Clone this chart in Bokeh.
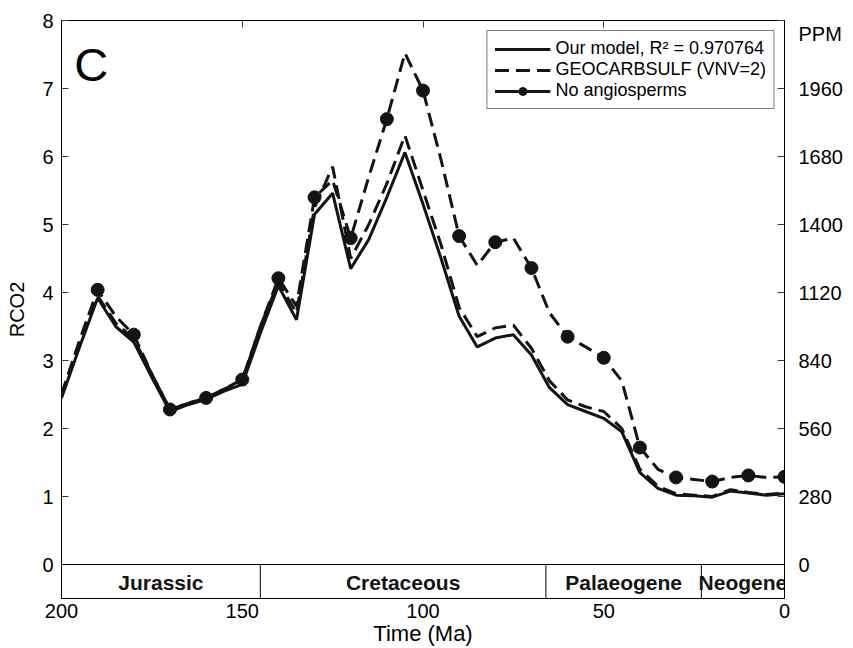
from bokeh.plotting import figure
from bokeh.models import (Range1d, LinearAxis, FixedTicker, Label, Legend,
                          LegendItem, Span, ColumnDataSource)
from bokeh.core.properties import value
from bokeh.embed import file_html
from bokeh.resources import INLINE

# Time grid (Ma), 5 Myr steps from 200 Ma to present
time_ma = [200, 195, 190, 185, 180, 175, 170, 165, 160, 155, 150, 145, 140,
           135, 130, 125, 120, 115, 110, 105, 100, 95, 90, 85, 80, 75, 70,
           65, 60, 55, 50, 45, 40, 35, 30, 25, 20, 15, 10, 5, 0]

# RCO2 series
our_model = [2.45, 3.20, 3.92, 3.50, 3.27, 2.75, 2.25, 2.35, 2.43, 2.55, 2.65,
             3.40, 4.10, 3.60, 5.15, 5.46, 4.35, 4.78, 5.40, 6.06, 5.30, 4.50,
             3.65, 3.20, 3.33, 3.38, 3.08, 2.60, 2.35, 2.25, 2.15, 1.95, 1.35,
             1.12, 1.02, 1.01, 0.99, 1.08, 1.05, 1.02, 1.04]
geocarbsulf = [2.50, 3.25, 3.95, 3.55, 3.32, 2.80, 2.28, 2.37, 2.46, 2.58, 2.70,
               3.50, 4.15, 3.70, 5.25, 5.85, 4.50, 5.00, 5.60, 6.31, 5.50, 4.70,
               3.78, 3.35, 3.48, 3.52, 3.18, 2.70, 2.42, 2.32, 2.25, 2.00, 1.40,
               1.15, 1.04, 1.02, 1.00, 1.10, 1.06, 1.03, 1.05]
no_angiosperms = [2.50, 3.30, 4.04, 3.65, 3.38, 2.80, 2.28, 2.37, 2.45, 2.58, 2.72,
                  3.50, 4.21, 3.80, 5.40, 5.65, 4.80, 5.70, 6.55, 7.52, 6.97, 5.95,
                  4.83, 4.40, 4.74, 4.80, 4.36, 3.70, 3.35, 3.20, 3.04, 2.70, 1.72,
                  1.40, 1.28, 1.25, 1.22, 1.28, 1.31, 1.28, 1.29]
# the no-angiosperm run is marked every 10 Myr
marker_times = [190, 180, 170, 160, 150, 140, 130, 120, 110, 100,
                90, 80, 70, 60, 50, 40, 30, 20, 10, 0]

# Geological periods (start, end in Ma)
period_names = ["Jurassic", "Cretaceous", "Palaeogene", "Neogene"]
period_starts = [200, 145, 66, 23]
period_ends = [145, 66, 23, 0]

rco2_ticks = [0, 1, 2, 3, 4, 5, 6, 7, 8]
ppm_ticks = [0, 280, 560, 840, 1120, 1400, 1680, 1960]
time_ticks = [200, 150, 100, 50, 0]
PPM_PER_RCO2 = 280

FONT = "Liberation Sans"
INK = "#141414"
AX = "#3a3a3a"

y_lo, y_hi = -0.5, 8.0
ppm_top = y_hi * PPM_PER_RCO2

p = figure(width=853, height=648, x_range=Range1d(200, 0),
           y_range=Range1d(y_lo, y_hi), output_backend="svg",
           toolbar_location=None, min_border_left=61, min_border_right=69,
           min_border_top=20, min_border_bottom=48)
p.background_fill_color = "white"
p.border_fill_color = "white"
p.outline_line_color = "black"
p.outline_line_width = 1
p.xgrid.visible = False
p.ygrid.visible = False

# bottom axis
xa = p.xaxis[0]
xa.ticker = FixedTicker(ticks=time_ticks)
xa.axis_label = "Time (Ma)"
xa.major_tick_in = 0
xa.major_tick_out = 0
xa.minor_tick_in = 0
xa.minor_tick_out = 0
xa.major_label_standoff = 5
xa.axis_label_standoff = 0
xa.axis_line_color = "black"

# left axis
ya = p.yaxis[0]
ya.ticker = FixedTicker(ticks=rco2_ticks)
ya.axis_label = "RCO2"
ya.major_tick_in = 7
ya.major_tick_out = 0
ya.minor_tick_in = 0
ya.minor_tick_out = 0
ya.major_label_standoff = 8
ya.axis_label_standoff = 11
ya.axis_line_color = "black"

# right axis in ppm; the unit name sits at the top of the scale
p.extra_y_ranges = {"ppm": Range1d(y_lo * PPM_PER_RCO2, ppm_top)}
ra = LinearAxis(y_range_name="ppm",
                ticker=FixedTicker(ticks=ppm_ticks + [ppm_top]))
ra.major_label_overrides = {ppm_top: "\nPPM"}
ra.major_label_text_line_height = 1.0
ra.major_tick_in = 7
ra.major_tick_out = 0
ra.minor_tick_in = 0
ra.minor_tick_out = 0
ra.major_label_standoff = 14
ra.axis_line_color = "black"
p.add_layout(ra, "right")

# top axis: tick marks only
ta = LinearAxis(ticker=FixedTicker(ticks=time_ticks))
ta.major_label_overrides = {t: "" for t in time_ticks}
ta.major_label_standoff = 0
ta.major_tick_in = 7
ta.major_tick_out = 0
ta.minor_tick_in = 0
ta.minor_tick_out = 0
ta.axis_line_color = "black"
p.add_layout(ta, "above")

for ax in (xa, ya, ra, ta):
    ax.major_label_text_font = FONT
    ax.major_label_text_font_size = "20px"
    ax.major_label_text_color = "black"
    ax.axis_label_text_font = FONT
    ax.axis_label_text_font_size = "22px"
    ax.axis_label_text_font_style = "normal"
    ax.axis_label_text_color = "black"
    ax.major_tick_line_color = AX
ta.major_label_text_font_size = "1px"
ya.axis_label_text_font_size = "20px"

# period strip along the bottom
p.add_layout(Span(location=0, dimension="width", line_color="black", line_width=1))
p.segment(x0=period_starts[1:], y0=[y_lo] * 3, x1=period_starts[1:], y1=[0] * 3,
          line_color="black", line_width=1)
mid = [(s + e) / 2 for s, e in zip(period_starts, period_ends)]
p.text(x=mid, y=[y_lo * 0.54] * len(mid), text=period_names,
       text_font=value(FONT), text_font_style="bold", text_font_size="21px",
       text_align="center", text_baseline="middle", text_color=INK)

# series
src = ColumnDataSource(dict(t=time_ma, model=our_model, geo=geocarbsulf,
                            noang=no_angiosperms))
r_model = p.line("t", "model", source=src, line_color=INK, line_width=3)
r_geo = p.line("t", "geo", source=src, line_color=INK, line_width=3,
               line_dash="14 7")
p.line("t", "noang", source=src, line_color=INK, line_width=3, line_dash="14 7")
lookup = dict(zip(time_ma, no_angiosperms))
r_mk = p.scatter(x=marker_times, y=[lookup[t] for t in marker_times],
                 marker="circle", size=13, fill_color=INK, line_color=INK)
# legend swatch for the marked series: a solid line behind the dot
r_proxy = p.line(x=[float("nan")], y=[float("nan")], line_color=INK, line_width=3)

legend = Legend(items=[
    LegendItem(label="Our model, R² = 0.970764", renderers=[r_model]),
    LegendItem(label="GEOCARBSULF (VNV=2)", renderers=[r_geo]),
    LegendItem(label="No angiosperms", renderers=[r_proxy, r_mk]),
], location="top_right")
legend.label_text_font = FONT
legend.label_text_font_size = "18px"
legend.label_text_color = "black"
legend.glyph_width = 56
legend.glyph_height = 20
legend.label_height = 20
legend.label_standoff = 5
legend.spacing = 0
legend.padding = 7
legend.margin = 10
legend.border_line_color = "black"
legend.border_line_width = 1
legend.background_fill_alpha = 1
p.add_layout(legend)

p.add_layout(Label(x=196.5, y=7.36, text="C", text_font=FONT,
                   text_font_size="47px", text_baseline="middle",
                   text_color="black"))

open("out.html", "w").write(file_html(p, INLINE))
